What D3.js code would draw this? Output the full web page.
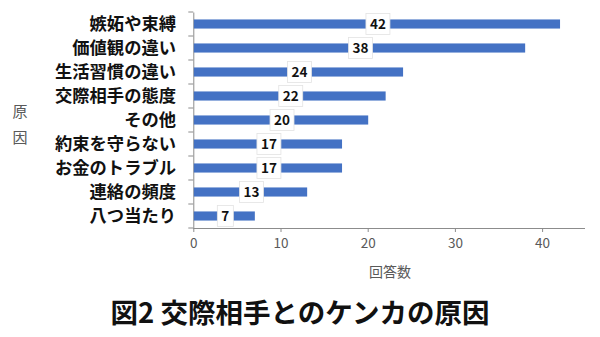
<!DOCTYPE html>
<html><head><meta charset="utf-8">
<script src="https://cdn.jsdelivr.net/npm/d3@7"></script>
<style>
html,body{margin:0;padding:0;background:#fff;}
svg{display:block;font-family:"Noto Sans CJK JP","Noto Sans",sans-serif;}
</style></head>
<body>
<svg id="chart" width="600" height="337"></svg>
<script>
const categories = ["嫉妬や束縛","価値観の違い","生活習慣の違い","交際相手の態度","その他","約束を守らない","お金のトラブル","連絡の頻度","八つ当たり"];
const values = [42,38,24,22,20,17,17,13,7];
const xTicks = [0,10,20,30,40];
const title = "図2 交際相手とのケンカの原因";
const xTitle = "回答数";
const yTitle = ["原","因"];

(function(){
const svg = d3.select("#chart");
const mLeft = 193.3, mRight = 585, mTop = 12, mBottom = 228;
const x = d3.scaleLinear().domain([0,45]).range([mLeft, mLeft + 45*8.72]);
const y = d3.scaleBand().domain(categories).range([mTop,mBottom]).paddingInner(0.62).paddingOuter(0.31);

const axisColor = "#8c8c8c";
// x axis
const xAxis = svg.append("g").attr("transform",`translate(0,${mBottom})`)
  .call(d3.axisBottom(x).tickValues(xTicks).tickSize(4).tickPadding(6));
xAxis.select(".domain").attr("stroke",axisColor).attr("d",`M${mLeft},0.5H${mRight}`);
xAxis.selectAll(".tick line").attr("stroke",axisColor);
xAxis.selectAll(".tick text").attr("fill","#595959").attr("font-size","13.5px")
  .attr("font-family","'Noto Sans CJK JP',sans-serif");

// y axis
const yAxis = svg.append("g").attr("transform",`translate(${mLeft},0)`)
  .call(d3.axisLeft(y).tickSize(0).tickFormat(""));
yAxis.select(".domain").attr("stroke",axisColor);
const yTickPos = d3.range(categories.length+1).map(i => mTop + i*(mBottom-mTop)/categories.length);
svg.append("g").selectAll("line").data(yTickPos).join("line")
  .attr("x1",mLeft-5).attr("x2",mLeft).attr("y1",d=>d).attr("y2",d=>d)
  .attr("stroke",axisColor);

// category labels
svg.append("g").selectAll("text").data(categories).join("text")
  .attr("x",176).attr("y",d=>y(d)+y.bandwidth()/2)
  .attr("dy","0.36em").attr("text-anchor","end")
  .attr("font-size","17.3px").attr("font-weight","bold").attr("fill","#111")
  .text(d=>d);

// bars
svg.append("g").selectAll("rect").data(values).join("rect")
  .attr("x",x(0)+0.5).attr("y",(d,i)=>y(categories[i]))
  .attr("width",d=>x(d)-x(0)).attr("height",y.bandwidth())
  .attr("fill","#4472C4");

// data labels
const lab = svg.append("g").selectAll("g").data(values).join("g")
  .attr("transform",(d,i)=>`translate(${x(d/2)+1.5},${y(categories[i])+y.bandwidth()/2})`);
lab.append("text").attr("text-anchor","middle").attr("dy","0.36em")
  .attr("font-size","13.5px").attr("font-weight","bold").attr("fill","#111")
  .text(d=>d);
lab.each(function(){
  const g = d3.select(this);
  const bb = g.select("text").node().getBBox();
  g.insert("rect","text").attr("x",bb.x-4).attr("y",-10.5).attr("width",bb.width+8).attr("height",21)
    .attr("fill","#fff").attr("stroke","#e3e3e3").attr("stroke-width",0.8);
});

// axis titles
svg.append("text").attr("x",390).attr("y",272).attr("dy","0.36em").attr("text-anchor","middle")
  .attr("font-size","14px").attr("fill","#595959").text(xTitle);
svg.append("g").selectAll("text").data(yTitle).join("text")
  .attr("x",20).attr("y",(d,i)=>112+i*26).attr("dy","0.36em").attr("text-anchor","middle")
  .attr("font-size","15px").attr("fill","#595959").text(d=>d);

// chart title
svg.append("text").attr("x",300).attr("y",313).attr("dy","0.36em").attr("text-anchor","middle")
  .attr("font-size","27.5px").attr("font-weight","bold").attr("fill","#111").text(title);
})();
</script>
</body></html>
